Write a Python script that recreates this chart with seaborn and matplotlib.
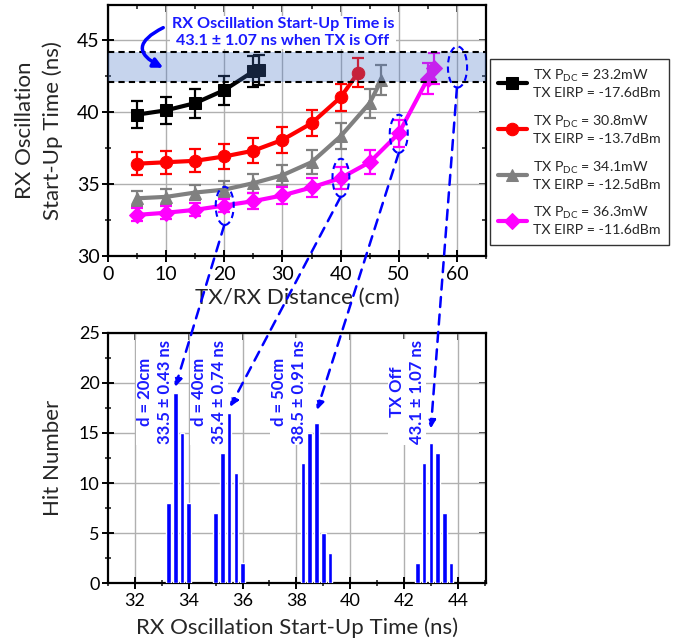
import numpy as np
import pandas as pd
import matplotlib
matplotlib.use("Agg")
import matplotlib.pyplot as plt
import seaborn as sns
from matplotlib.patches import Ellipse, ConnectionPatch
from matplotlib.ticker import MultipleLocator

# ---------------- data ----------------
dist_black = [5, 10, 15, 20, 25, 26]
time_black = [39.8, 40.1, 40.6, 41.5, 42.8, 42.9]
err_black = [0.95, 0.95, 1.0, 1.0, 1.05, 1.05]

dist_red = [5, 10, 15, 20, 25, 30, 35, 40, 43]
time_red = [36.4, 36.5, 36.6, 36.9, 37.3, 38.05, 39.2, 41.0, 42.7]
err_red = [0.8, 0.8, 0.8, 0.85, 0.85, 0.9, 0.9, 0.95, 1.0]

dist_gray = [5, 10, 15, 20, 25, 30, 35, 40, 45, 47]
time_gray = [34.0, 34.1, 34.4, 34.6, 35.05, 35.6, 36.5, 38.3, 40.6, 42.2]
err_gray = [0.5, 0.55, 0.55, 0.6, 0.65, 0.7, 0.85, 0.9, 1.0, 1.05]

dist_mag = [5, 10, 15, 20, 25, 30, 35, 40, 45, 50, 55, 56]
time_mag = [32.85, 33.0, 33.2, 33.5, 33.8, 34.2, 34.75, 35.4, 36.5, 38.5, 42.3, 43.0]
err_mag = [0.45, 0.45, 0.45, 0.43, 0.55, 0.6, 0.65, 0.74, 0.85, 0.91, 1.05, 1.07]

series_labels = [
    "TX P$_{DC}$ = 23.2mW\nTX EIRP = -17.6dBm",
    "TX P$_{DC}$ = 30.8mW\nTX EIRP = -13.7dBm",
    "TX P$_{DC}$ = 34.1mW\nTX EIRP = -12.5dBm",
    "TX P$_{DC}$ = 36.3mW\nTX EIRP = -11.6dBm",
]

off_mean = 43.1
off_std = 1.07

# histogram data
bins_20 = [33.25, 33.5, 33.75, 34.0]
hits_20 = [8, 19, 15, 8]
bins_40 = [35.0, 35.25, 35.5, 35.75, 36.0]
hits_40 = [7, 13, 17, 11, 2]
bins_50 = [38.25, 38.5, 38.75, 39.0, 39.25]
hits_50 = [12, 15, 16, 5, 3]
bins_off = [42.5, 42.75, 43.0, 43.25, 43.5, 43.75]
hits_off = [2, 12, 14, 13, 7, 2]

hist_labels = ["d = 20cm\n33.5 ± 0.43 ns", "d = 40cm\n35.4 ± 0.74 ns",
               "d = 50cm\n38.5 ± 0.91 ns", "TX Off\n43.1 ± 1.07 ns"]

# ---------------- style ----------------
sns.set_theme(style="white")
FONT = "Lato"
plt.rcParams["font.family"] = [FONT, "DejaVu Sans"]
plt.rcParams["mathtext.default"] = "regular"

BLUE = "#0000ff"
TXTBLUE = "#1a1aff"

fig = plt.figure(figsize=(6.75, 6.43), dpi=100)
ax1 = fig.add_axes([108 / 675, 1 - 256 / 643, 378 / 675, 251 / 643])
ax2 = fig.add_axes([108 / 675, 1 - 583.3 / 643, 378 / 675, 250.6 / 643])

# ---------------- top chart ----------------
series = [
    (dist_black, time_black, err_black, "black", "s", 8),
    (dist_red, time_red, err_red, "#ff0000", "o", 9),
    (dist_gray, time_gray, err_gray, "#808080", "^", 9),
    (dist_mag, time_mag, err_mag, "#ff00ff", "D", 8),
]
for (d, t, e, c, m, ms), lab in zip(series, series_labels):
    df = pd.DataFrame({"d": d, "t": t})
    sns.lineplot(data=df, x="d", y="t", ax=ax1, color=c, marker=m, markersize=ms,
                 markeredgecolor=c, linewidth=3, label=lab, zorder=3)
    ax1.errorbar(d, t, yerr=e, fmt="none", ecolor=c, elinewidth=1.6, capsize=4,
                 capthick=1.6, zorder=3)

ax1.axhspan(off_mean - off_std, off_mean + off_std, color="#4472c4", alpha=0.3,
            zorder=4, lw=0)
for yy in (off_mean - off_std, off_mean + off_std):
    ax1.axhline(yy, color="black", lw=1.5, ls=(0, (3, 2)), zorder=5)

ax1.set_xlim(0, 65)
ax1.set_ylim(30, 47.4)
ax1.xaxis.set_major_locator(MultipleLocator(10))
ax1.xaxis.set_minor_locator(MultipleLocator(5))
ax1.yaxis.set_major_locator(MultipleLocator(5))
ax1.yaxis.set_minor_locator(MultipleLocator(2.5))
ax1.grid(True, which="major", color="#b0b0b0", lw=1)
ax1.set_xlabel("TX/RX Distance (cm)", fontsize=16, labelpad=4)
ax1.set_ylabel("RX Oscillation\nStart-Up Time (ns)", fontsize=16, linespacing=1.45)
ax1.yaxis.set_label_coords(-0.12, 0.5)

leg = ax1.legend(loc="upper left", bbox_to_anchor=(1.01, 0.785), frameon=True,
                 fontsize=10.2, handlelength=2.0, labelspacing=1.05,
                 borderpad=0.6, handletextpad=0.45, borderaxespad=0,
                 fancybox=False)
leg.get_frame().set_edgecolor("black")
leg.get_frame().set_linewidth(1.0)
for txt in leg.get_texts():
    txt.set_linespacing(1.3)

ax1.text(30.1, 45.5, "RX Oscillation Start-Up Time is\n43.1 ± 1.07 ns when TX is Off",
         ha="center", va="center", color=TXTBLUE, fontsize=11.6, fontweight="bold",
         linespacing=1.25, zorder=6,
         bbox=dict(facecolor="white", edgecolor="none", pad=1))
ax1.annotate("", xy=(9.5, 43.05), xytext=(9.5, 45.83),
             arrowprops=dict(arrowstyle="-|>", color=BLUE, lw=2.5,
                             connectionstyle="arc3,rad=1.0", mutation_scale=14,
                             shrinkA=0, shrinkB=0),
             zorder=6)

ellipses = [(20.07, 33.47, 3.1, 2.64), (40.05, 35.42, 2.9, 2.64),
            (50.0, 38.47, 3.1, 2.64), (60.1, 43.1, 3.3, 2.85)]
for (cx, cy, w, h) in ellipses:
    ax1.add_patch(Ellipse((cx, cy), w, h, fill=False, edgecolor=BLUE, lw=1.5,
                          ls=(0, (3, 2)), zorder=7))

for ax, lsz in ((ax1, 14), (ax2, 13)):
    for sp in ax.spines.values():
        sp.set_linewidth(1.6)
        sp.set_color("black")
    ax.tick_params(which="major", direction="inout", length=8, width=1.4,
                   labelsize=lsz, colors="black", left=True, bottom=True)
    ax.tick_params(which="minor", direction="inout", length=5, width=1.2,
                   left=True, bottom=True)
    ax.tick_params(axis="x", pad=3)
    ax.tick_params(axis="y", pad=2)
    sx = ax.secondary_xaxis("top")
    sx.xaxis.set_major_locator(ax.xaxis.get_major_locator())
    sx.xaxis.set_minor_locator(ax.xaxis.get_minor_locator())
    sx.tick_params(which="both", direction="in", labeltop=False, width=1.2)
    sx.tick_params(which="major", length=5)
    sx.tick_params(which="minor", length=3)
    sy = ax.secondary_yaxis("right")
    sy.yaxis.set_major_locator(ax.yaxis.get_major_locator())
    sy.yaxis.set_minor_locator(ax.yaxis.get_minor_locator())
    sy.tick_params(which="both", direction="in", labelright=False, width=1.2)
    sy.tick_params(which="major", length=5)
    sy.tick_params(which="minor", length=3)
    for s in (sx, sy):
        for sp in s.spines.values():
            sp.set_visible(False)

# ---------------- bottom chart ----------------
hist_df = pd.DataFrame({
    "time": bins_20 + bins_40 + bins_50 + bins_off,
    "hits": hits_20 + hits_40 + hits_50 + hits_off,
})
ax2.bar(hist_df["time"], hist_df["hits"], width=0.17, color=BLUE, zorder=5)

ax2.set_xlim(31, 45.05)
ax2.set_ylim(0, 25)
ax2.xaxis.set_major_locator(MultipleLocator(2))
ax2.xaxis.set_minor_locator(MultipleLocator(1))
ax2.yaxis.set_major_locator(MultipleLocator(5))
ax2.yaxis.set_minor_locator(MultipleLocator(2.5))
ax2.grid(True, which="major", color="#b0b0b0", lw=1, zorder=0)
ax2.set_axisbelow(True)
ax2.set_xlabel("RX Oscillation Start-Up Time (ns)", fontsize=16, labelpad=6)
ax2.set_ylabel("Hit Number", fontsize=16)
ax2.yaxis.set_label_coords(-0.12, 0.5)

label_pos = [(32.74, 19.1), (34.76, 19.1), (37.72, 19.1), (42.12, 19.1)]
for (lx, ly), lab in zip(label_pos, hist_labels):
    ax2.text(lx, ly, lab, rotation=90, ha="center", va="center", color=TXTBLUE,
             fontsize=12, fontweight="bold", linespacing=1.3, zorder=4,
             multialignment="center",
             bbox=dict(facecolor="white", edgecolor="none", pad=1))

# dashed connectors from ellipses to histograms
conns = [((20.0, 32.15), (33.5, 19.6)), ((40.0, 34.1), (35.54, 17.6)),
         ((50.0, 37.15), (38.77, 17.3)), ((60.0, 41.67), (43.0, 15.45))]
for (pa, pb) in conns:
    cp = ConnectionPatch(xyA=pa, coordsA=ax1.transData, xyB=pb, coordsB=ax2.transData,
                         arrowstyle="-|>", color=BLUE, lw=1.8, ls=(0, (4, 3)),
                         mutation_scale=12, zorder=10)
    fig.add_artist(cp)

fig.savefig("out.png", dpi=100)
